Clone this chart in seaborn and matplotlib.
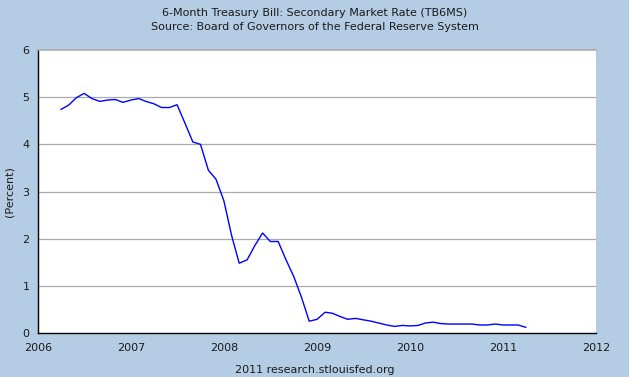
import pandas as pd
import matplotlib.pyplot as plt
import matplotlib.dates as mdates
import seaborn as sns

# Monthly TB6MS readings, Apr 2006 - Apr 2011 (percent)
months = pd.date_range("2006-04-01", "2011-04-01", freq="MS")
rates = [
    4.74, 4.83, 4.99, 5.08, 4.97, 4.91, 4.94, 4.95, 4.89,
    4.94, 4.97, 4.91, 4.86, 4.78, 4.78, 4.84, 4.45, 4.05, 4.00, 3.45, 3.26,
    2.80, 2.05, 1.48, 1.55, 1.85, 2.12, 1.94, 1.94, 1.55, 1.20, 0.75, 0.25,
    0.29, 0.44, 0.42, 0.35, 0.29, 0.31, 0.28, 0.25, 0.21, 0.17, 0.14, 0.16,
    0.15, 0.16, 0.21, 0.23, 0.20, 0.19, 0.19, 0.19, 0.19, 0.17, 0.17, 0.19,
    0.17, 0.17, 0.17, 0.12,
]
yearTicks = [pd.Timestamp(f"{y}-01-01") for y in range(2006, 2013)]
yearLabels = [str(y) for y in range(2006, 2013)]
yTicks = [0, 1, 2, 3, 4, 5, 6]

bgColor = "#b4cde4"
textColor = "#1a1a1a"

df = pd.DataFrame({"date": months, "rate": rates})

sns.set_style("white")
plt.rcParams["font.family"] = ["DejaVu Sans"]

fig = plt.figure(figsize=(6.29, 3.77), dpi=100, facecolor=bgColor)
ax = fig.add_axes([38 / 629, 1 - 333 / 377, (596 - 38) / 629, (333 - 50) / 377])
ax.set_facecolor("white")

sns.lineplot(data=df, x="date", y="rate", ax=ax, color="#0000ff", linewidth=1.0)

ax.set_xlim(yearTicks[0], yearTicks[-1])
ax.set_ylim(0, 6)
ax.set_xticks(yearTicks)
ax.xaxis.set_major_formatter(mdates.DateFormatter("%Y"))
ax.set_xticklabels(yearLabels)
ax.set_yticks(yTicks)
ax.set_yticklabels([str(v) for v in yTicks])

# horizontal grid only
for v in yTicks[1:-1]:
    ax.axhline(v, color="#aaaaaa", linewidth=0.9, zorder=0)

for side in ["left", "bottom"]:
    ax.spines[side].set_color("black")
    ax.spines[side].set_linewidth(1.0)
ax.spines["top"].set_color("#aaaaaa")
ax.spines["top"].set_linewidth(1.2)
ax.spines["right"].set_visible(False)

ax.tick_params(axis="x", direction="in", length=5, width=1.0, color="black",
               labelsize=8, labelcolor=textColor, pad=7)
ax.tick_params(axis="y", direction="out", length=3, width=1.0, color="black",
               labelsize=8, labelcolor=textColor, pad=3)

ax.set_xlabel("")
ax.set_ylabel("(Percent)", fontsize=8, color=textColor, labelpad=5.5)

fig.text(0.5, 1 - 13 / 377, "6-Month Treasury Bill: Secondary Market Rate (TB6MS)",
         ha="center", va="center", fontsize=8, color=textColor)
fig.text(0.5, 1 - 27 / 377, "Source: Board of Governors of the Federal Reserve System",
         ha="center", va="center", fontsize=8, color=textColor)
fig.text(315 / 629, 1 - 370 / 377, "2011 research.stlouisfed.org",
         ha="center", va="center", fontsize=8, color=textColor)

fig.savefig("out.png", dpi=100, facecolor=bgColor)
plt.close(fig)
